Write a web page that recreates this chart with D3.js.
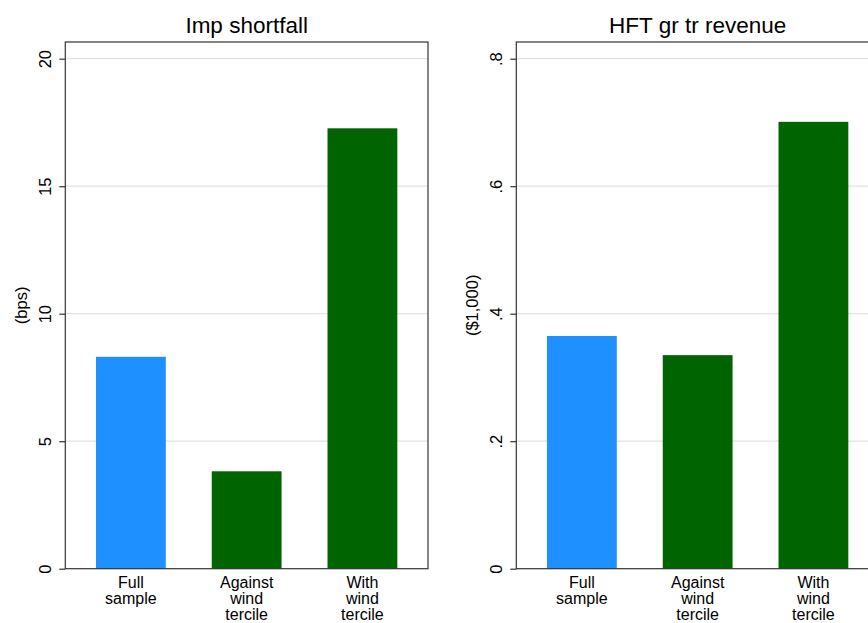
<!DOCTYPE html>
<html><head><meta charset="utf-8">
<script src="https://cdn.jsdelivr.net/npm/d3@7/dist/d3.min.js"></script>
<style>body{margin:0;background:#fff}svg{display:block}text{font-family:"Liberation Sans",Arial,Helvetica,sans-serif;fill:#000}</style>
</head><body><svg id="c" width="868" height="623"></svg>
<script>
const categories = [["Full","sample"],["Against","wind","tercile"],["With","wind","tercile"]];
const colors = ["#1e90ff","#006400","#006400"];
const impValues = [8.31, 3.82, 17.27];
const impTicks = [0,5,10,15,20];
const impTickLabels = ["0","5","10","15","20"];
const hftValues = [0.365, 0.335, 0.701];
const hftTicks = [0,0.2,0.4,0.6,0.8];
const hftTickLabels = ["0",".2",".4",".6",".8"];

const svg = d3.select("#c");
const plotTop = 42, plotBottom = 568.7;

function panel(left, right, title, ytitle, ytitleX, values, ticks, tickLabels, ymax){
  const g = svg.append("g");
  const y = d3.scaleLinear().domain([0, ymax]).range([plotBottom, 58.7]);
  const x = d3.scaleBand().domain(d3.range(categories.length)).range([left, right]).paddingInner(0.397).paddingOuter(0.265);
  g.selectAll(".grid").data(ticks.filter(t=>t>0)).enter().append("line")
    .attr("x1", left).attr("x2", right).attr("y1", d=>y(d)).attr("y2", d=>y(d))
    .attr("stroke", "#e2e2e2").attr("stroke-width", 1.2);
  g.selectAll(".bar").data(values).enter().append("rect")
    .attr("x", (d,i)=>x(i)).attr("width", x.bandwidth())
    .attr("y", d=>y(d)).attr("height", d=>plotBottom - y(d))
    .attr("fill", (d,i)=>colors[i]);
  g.append("rect").attr("x", left).attr("y", plotTop).attr("width", right-left).attr("height", plotBottom-plotTop)
    .attr("fill","none").attr("stroke","#333").attr("stroke-width",1.2);
  const ax = d3.axisLeft(y).tickValues(ticks).tickSize(6).tickFormat((d,i)=>tickLabels[i]);
  const axg = g.append("g").attr("transform", `translate(${left},0)`).call(ax);
  axg.select(".domain").remove();
  axg.selectAll(".tick line").attr("stroke","#333").attr("stroke-width",1.2);
  axg.selectAll(".tick text").attr("font-size", 16.5).attr("text-anchor","middle")
    .attr("x", 0).attr("y", 0).attr("dy", 0).attr("fill","#000")
    .attr("transform", `translate(-14,0) rotate(-90)`);
  categories.forEach((lines,i)=>{
    const cx = x(i)+x.bandwidth()/2;
    const t = g.append("text").attr("text-anchor","middle").attr("font-size",16)
      .attr("x", cx).attr("y", 587.5);
    lines.forEach((l,j)=>t.append("tspan").attr("x", cx).attr("dy", j===0?0:16).text(l));
  });
  g.append("text").attr("text-anchor","middle").attr("font-size",22.5)
    .attr("x",(left+right)/2).attr("y",33).text(title);
  g.append("text").attr("text-anchor","middle").attr("font-size",16.5)
    .attr("transform", `translate(${ytitleX},${(plotTop+plotBottom)/2}) rotate(-90)`).text(ytitle);
}
panel(65.3, 428, "Imp shortfall", "(bps)", 27, impValues, impTicks, impTickLabels, 20);
panel(516.3, 879, "HFT gr tr revenue", "($1,000)", 477.5, hftValues, hftTicks, hftTickLabels, 0.8);
</script></body></html>
